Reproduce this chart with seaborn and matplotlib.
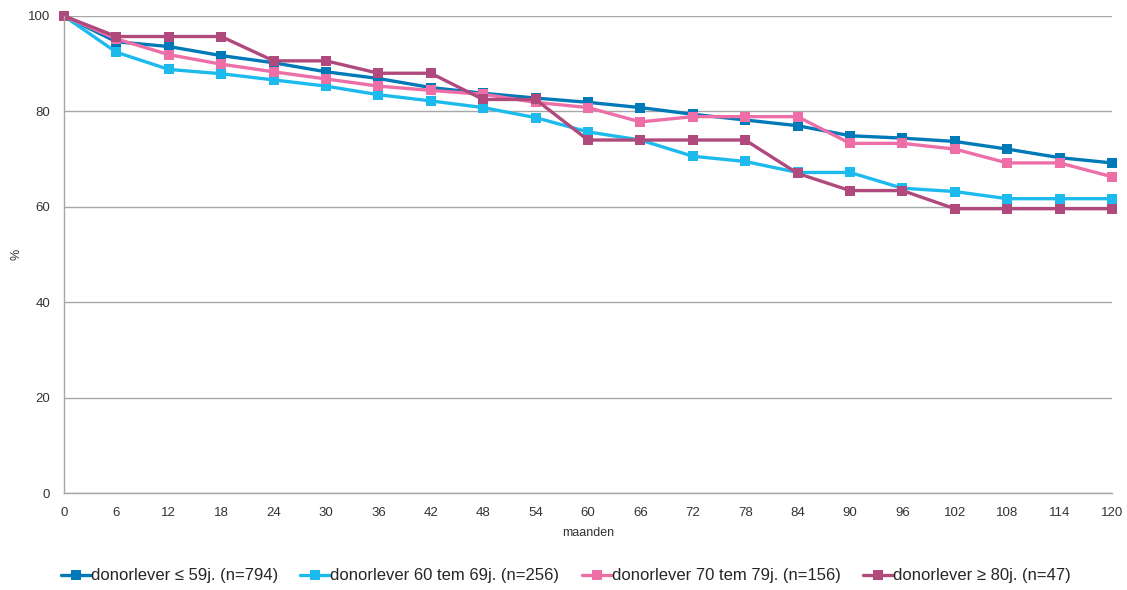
import matplotlib
matplotlib.use("Agg")
import matplotlib.pyplot as plt
import seaborn as sns
import pandas as pd

months = [0, 6, 12, 18, 24, 30, 36, 42, 48, 54, 60, 66, 72, 78, 84, 90, 96, 102, 108, 114, 120]
series_names = ["donorlever ≤ 59j. (n=794)", "donorlever 60 tem 69j. (n=256)",
                "donorlever 70 tem 79j. (n=156)", "donorlever ≥ 80j. (n=47)"]
s_le59 = [100, 94.6, 93.6, 91.7, 90.2, 88.3, 86.9, 85.0, 83.8, 82.8, 81.9, 80.8, 79.4, 78.2,
          77.0, 74.9, 74.4, 73.7, 72.1, 70.3, 69.2]
s_60_69 = [100, 92.4, 88.8, 87.9, 86.6, 85.3, 83.5, 82.2, 80.8, 78.7, 75.7, 74.0, 70.6, 69.5,
           67.2, 67.2, 63.9, 63.2, 61.7, 61.7, 61.7]
s_70_79 = [100, 95.2, 91.9, 89.9, 88.3, 86.8, 85.3, 84.4, 83.6, 81.9, 80.8, 77.8, 78.9, 78.9,
           78.9, 73.3, 73.3, 72.1, 69.2, 69.2, 66.3]
s_ge80 = [100, 95.7, 95.7, 95.7, 90.6, 90.6, 88.0, 88.0, 82.5, 82.5, 74.0, 74.0, 74.0, 74.0,
          67.0, 63.4, 63.4, 59.6, 59.6, 59.6, 59.6]
colors = ["#0079B8", "#1DBAEE", "#EE6FA7", "#B0497C"]
yticks = [0, 20, 40, 60, 80, 100]

rows = []
for name, vals in zip(series_names, [s_le59, s_60_69, s_70_79, s_ge80]):
    for m, v in zip(months, vals):
        rows.append({"maanden": m, "%": v, "groep": name})
df = pd.DataFrame(rows)

sns.set_theme(style="white")
plt.rcParams["font.family"] = ["Liberation Sans", "DejaVu Sans"]

fig = plt.figure(figsize=(11.27, 5.90), dpi=100)
ax = fig.add_axes([64 / 1127, 1 - 493 / 590, (1112 - 64) / 1127, (493 - 16) / 590])

sns.lineplot(data=df, x="maanden", y="%", hue="groep", hue_order=series_names,
             palette=colors, marker="s", markersize=7, markeredgewidth=0,
             linewidth=2.4, ax=ax, clip_on=False, legend=True)

ax.set_xlim(0, 120)
ax.set_ylim(0, 100)
ax.set_xticks(months)
ax.set_xticklabels([str(m) for m in months], fontsize=9.5, color="#333333")
ax.set_yticks(yticks)
ax.set_yticklabels([str(v) for v in yticks], fontsize=9.5, color="#333333")
ax.tick_params(axis="both", length=0, pad=10)
ax.yaxis.grid(True, color="#A6A6A6", linewidth=1)
ax.xaxis.grid(False)
for side in ["top", "right"]:
    ax.spines[side].set_visible(False)
for side in ["left", "bottom"]:
    ax.spines[side].set_color("#A6A6A6")
    ax.spines[side].set_linewidth(1)

ax.set_xlabel("maanden", fontsize=9, color="#333333", labelpad=6)
ax.set_ylabel("%", fontsize=9, color="#333333")
ax.yaxis.set_label_coords(-0.040, 0.5)

handles, labels = ax.get_legend_handles_labels()
ax.get_legend().remove()
fig.legend(handles, labels, loc="center", bbox_to_anchor=(0.502, 0.024), ncol=4,
           frameon=False, fontsize=12, handlelength=1.8, handletextpad=0.0,
           columnspacing=1.35)

fig.savefig("out.png", dpi=100)
